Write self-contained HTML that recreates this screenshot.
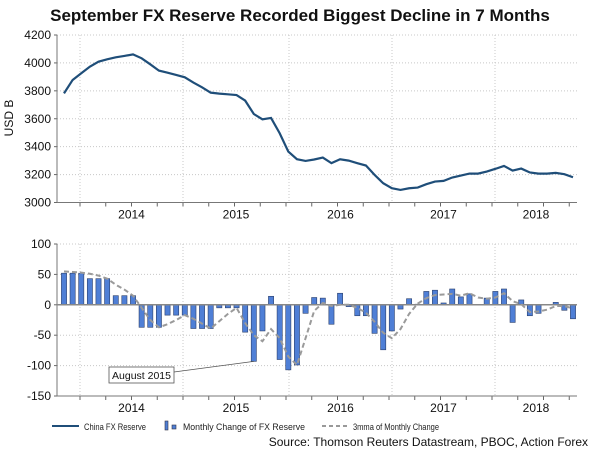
<!DOCTYPE html>
<html><head><meta charset="utf-8"><style>
body{margin:0;background:#fff;}
svg{display:block;font-family:"Liberation Sans",sans-serif;}
</style></head><body>
<svg id="c" width="600" height="450" xmlns="http://www.w3.org/2000/svg">
<text x="300" y="21" text-anchor="middle" font-size="17" font-weight="bold" fill="#111">September FX Reserve Recorded Biggest Decline in 7 Months</text>
<text transform="translate(13,118) rotate(-90)" text-anchor="middle" font-size="12" fill="#111">USD B</text>
<g id="topg"></g><g id="botg"></g>
<g font-size="9.5" fill="#222">
<line x1="52" y1="426" x2="79" y2="426" stroke="#1f4e79" stroke-width="2"/>
<text x="84" y="430" textLength="62" lengthAdjust="spacingAndGlyphs">China FX Reserve</text>
<rect x="165" y="421" width="3" height="9" fill="#4f7fd6" stroke="#334" stroke-width="0.6"/>
<rect x="172" y="425" width="4" height="4" fill="#4f7fd6" stroke="#334" stroke-width="0.6"/>
<text x="183" y="430" textLength="122" lengthAdjust="spacingAndGlyphs">Monthly Change of FX Reserve</text>
<line x1="322" y1="426" x2="347" y2="426" stroke="#999" stroke-width="2" stroke-dasharray="4,3"/>
<text x="353" y="430" textLength="86" lengthAdjust="spacingAndGlyphs">3mma of Monthly Change</text>
</g>
<text x="588" y="446" text-anchor="end" font-size="12" fill="#111">Source: Thomson Reuters Datastream, PBOC, Action Forex</text>
</svg>
<script>
const reserve=[3782,3878,3926,3973,4009,4026,4040,4050,4061,4033,3990,3945,3930,3914,3897,3859,3825,3787,3780,3775,3770,3730,3634,3596,3606,3496,3365,3310,3298,3308,3322,3282,3310,3300,3282,3265,3198,3138,3102,3090,3102,3107,3131,3150,3155,3179,3193,3207,3207,3222,3241,3262,3229,3243,3215,3207,3207,3212,3203,3181];
const change=[52,52,52,43,43,43,15,15,15,-37,-37,-37,-17,-17,-17,-39,-39,-39,-5,-5,-5,-45,-93,-43,14,-90,-107,-99,-14,12,11,-32,19,-3,-18,-18,-47,-74,-43,-7,10,1,22,24,3,26,13,18,0,11,22,26,-29,8,-18,-14,0,4,-9,-23];
const mma=[55,54,53,51,48,43,33,25,15,-5,-25,-37,-32,-25,-17,-23,-31,-39,-27,-15,-5,-30,-50,-60,-40,-55,-85,-99,-55,-10,3,-2,0,0,-5,-13,-28,-46,-55,-40,-15,2,11,16,17,18,15,19,12,10,12,19,6,1,-12,-11,-8,-2,-2,-6];
const topTicks=[3000,3200,3400,3600,3800,4000,4200];
const botTicks=[-150,-100,-50,0,50,100];
const years=["2014","2015","2016","2017","2018"];
const NS="http://www.w3.org/2000/svg";
const L=57,R=577;
function X(i){return 64+i*(573-64)/(reserve.length-1);}
function YT(v){return 202.5-(v-3000)*(202.5-35)/1200;}
function YB(v){return 396-(v+150)*(396-244)/250;}
function mk(p,t,a){const e=document.createElementNS(NS,t);for(const k in a)e.setAttribute(k,a[k]);p.appendChild(e);return e;}
const topG=document.getElementById('topg'),botG=document.getElementById('botg');
const yb=[80,183,289,392,495];
function frame(g,ticks,Y,y0,y1,pre){
  ticks.forEach(t=>{
    const gl=mk(g,'line',{x1:L,x2:R,y1:Y(t),y2:Y(t),stroke:'#c8c8c8','stroke-dasharray':'1,2'});
    
    
    const tx=mk(g,'text',{x:L-6,y:Y(t)+4,'text-anchor':'end','font-size':12,fill:'#111'});
    tx.textContent=t;
    
    
    mk(g,'line',{x1:L-3,x2:L,y1:Y(t),y2:Y(t),stroke:'#666'});
  });
  yb.forEach(x=>{
    const v=mk(g,'line',{x1:x,x2:x,y1:y0,y2:y1,stroke:'#c8c8c8','stroke-dasharray':'1,2'});
    
    
  });
  for(let x=80;x<=R;x+=25.75){mk(g,'line',{x1:x,x2:x,y1:y1,y2:y1+4,stroke:'#666'});}
  mk(g,'line',{x1:L,x2:L,y1:y0,y2:y1,stroke:'#777'});
  mk(g,'line',{x1:L,x2:R,y1:y1,y2:y1,stroke:'#777'});
  years.forEach((y,i)=>{
    const x=i<4?(yb[i]+yb[i+1])/2:yb[4]+41;
    const t=mk(g,'text',{x:x,y:y1+16,'text-anchor':'middle','font-size':12,fill:'#111'});
    t.textContent=y;
    
    
  });
}
frame(topG,topTicks,YT,35,202.5,'top');
frame(botG,botTicks,YB,244,396,'bottom');
const pl=mk(topG,'polyline',{points:reserve.map((v,i)=>X(i)+','+YT(v)).join(' '),fill:'none',stroke:'#1f4e79','stroke-width':2.2});


change.forEach((v,i)=>{
  const y=Math.min(YB(v),YB(0)),h=Math.abs(YB(v)-YB(0));
  const b=mk(botG,'rect',{x:X(i)-2.6,y:y,width:5.2,height:h,fill:'#4f7fd6',stroke:'#2b3f6b','stroke-width':0.6});
  
  
});
const z=mk(botG,'line',{x1:L,x2:R,y1:YB(0),y2:YB(0),stroke:'#888','stroke-width':1.5});


const ml=mk(botG,'polyline',{points:mma.map((v,i)=>X(i)+','+YB(v)).join(' '),fill:'none',stroke:'#9a9a9a','stroke-width':2,'stroke-dasharray':'5,3'});


const aug=22;
const al=mk(botG,'line',{x1:174,y1:372,x2:X(aug),y2:YB(change[aug]),stroke:'#555','stroke-width':0.8});


const ab=mk(botG,'rect',{x:109,y:367,width:65,height:16,fill:'#fff',stroke:'#555','stroke-width':0.8});


const at=mk(botG,'text',{x:141.5,y:379,'text-anchor':'middle','font-size':10.5,fill:'#111'});
at.textContent='August 2015';


</script>
</body></html>
